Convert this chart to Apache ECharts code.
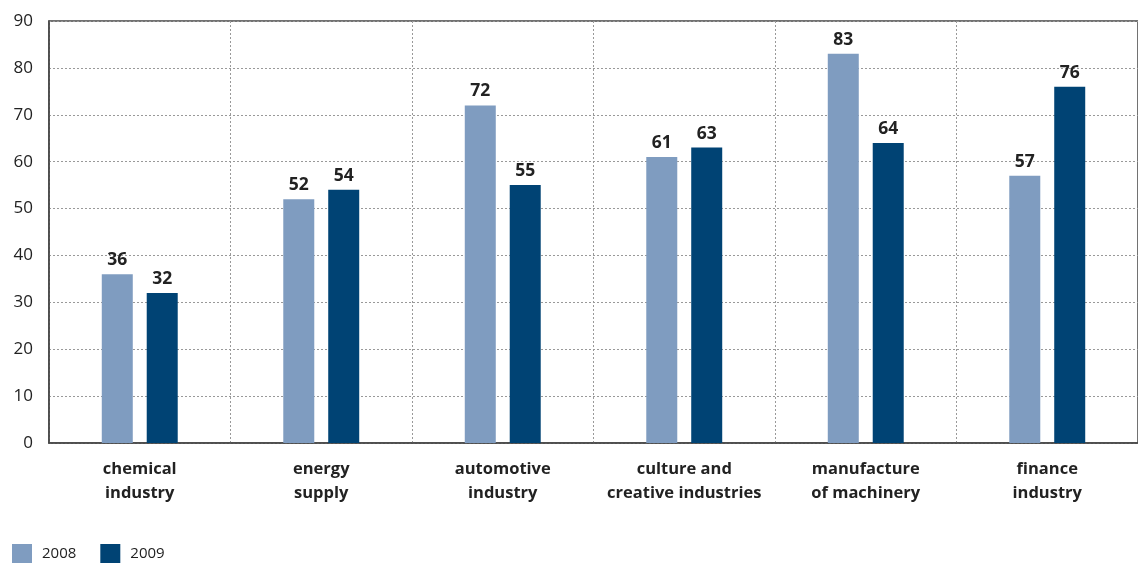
<!DOCTYPE html>
<html>
<head>
<meta charset="utf-8">
<script src="https://cdn.jsdelivr.net/npm/echarts@6/dist/echarts.min.js"></script>
<style>
  html, body { margin: 0; padding: 0; background: #fff; }
  #chart { width: 1138px; height: 565px; }
</style>
</head>
<body>
<div id="chart"></div>
<script>
// Sector categories and yearly values
const categories = [
  'chemical\nindustry',
  'energy\nsupply',
  'automotive\nindustry',
  'culture and\ncreative industries',
  'manufacture\nof machinery',
  'finance\nindustry'
];
const values2008 = [36, 52, 72, 61, 83, 57];
const values2009 = [32, 54, 55, 63, 64, 76];
const yTicks = [0, 10, 20, 30, 40, 50, 60, 70, 80, 90];

const FONT = '"Open Sans", "Noto Sans", sans-serif';
const C2008 = '#7f9cc0';
const C2009 = '#004374';

const chart = echarts.init(document.getElementById('chart'), null, { renderer: 'canvas' });

const barLabel = {
  show: true,
  position: 'top',
  distance: 5,
  color: '#222',
  fontFamily: FONT,
  fontWeight: 'bold',
  fontSize: 17.5
};

chart.setOption({
  animation: false,
  backgroundColor: '#fff',
  grid: {
    left: 49, right: 0, top: 21, bottom: 122,
    show: true, borderColor: '#444', borderWidth: 1.5
  },
  legend: {
    left: 7, top: 539,
    itemWidth: 20, itemHeight: 19, itemGap: 24,
    icon: 'rect',
    textStyle: { fontFamily: FONT, fontSize: 15, color: '#222', padding: [12, 0, 0, 5] },
    data: ['2008', '2009']
  },
  xAxis: {
    type: 'category',
    data: categories,
    axisLine: { lineStyle: { color: '#444', width: 1.5 } },
    axisTick: { show: false },
    splitLine: { show: true, lineStyle: { color: '#999', type: [2, 2], width: 1 } },
    axisLabel: {
      color: '#222', fontFamily: FONT, fontWeight: 'bold', fontSize: 16.5,
      lineHeight: 24, margin: 14, interval: 0
    }
  },
  yAxis: {
    type: 'value',
    min: yTicks[0],
    max: yTicks[yTicks.length - 1],
    interval: 10,
    axisLine: { show: true, lineStyle: { color: '#444', width: 1.5 } },
    axisTick: { show: false },
    splitLine: { show: true, lineStyle: { color: '#999', type: [2, 2], width: 1 } },
    axisLabel: { color: '#222', fontFamily: FONT, fontSize: 17, margin: 16 }
  },
  series: [
    {
      name: '2008', type: 'bar', data: values2008,
      barWidth: 31, barGap: '45%',
      itemStyle: { color: C2008 },
      label: barLabel
    },
    {
      name: '2009', type: 'bar', data: values2009,
      barWidth: 31,
      itemStyle: { color: C2009 },
      label: barLabel
    }
  ]
});
</script>
</body>
</html>
